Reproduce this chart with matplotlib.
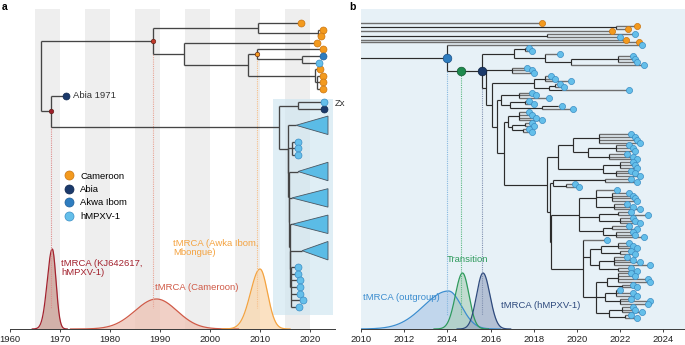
import math
import numpy as np
import matplotlib
matplotlib.use("Agg")
import matplotlib.pyplot as plt
from matplotlib.lines import Line2D
from matplotlib.collections import LineCollection
from matplotlib.patches import Polygon, Rectangle

plt.rcParams['font.family'] = ['Liberation Sans', 'DejaVu Sans']
FS = 6.8

# ------------------------------------------------------------------ data
tip_face = {'o': '#F39A1E', 'n': '#1B3A6B', 'm': '#2E7DC0', 'l': '#64BFEA'}
tip_edge = {'o': '#C97410', 'n': '#10284F', 'm': '#1F5E98', 'l': '#3A8DC4'}
legend_labels = ['Cameroon', 'Abia', 'Akwa Ibom', 'hMPXV-1']
legend_codes = ['o', 'n', 'm', 'l']

a_ticks = [1960, 1970, 1980, 1990, 2000, 2010, 2020]
a_stripes = [1965, 1975, 1985, 1995, 2005, 2015]
b_ticks = [2010, 2012, 2014, 2016, 2018, 2020, 2022, 2024]

# panel a tree: [time, children...] / (time, colour, tag) / ('tri', apex time)
cameroon_clade = ['cam', 1988.6,
                  [2009.6, (2018.2, 'o'), [2021.6, (2022.6, 'o'), (2022.2, 'o')]],
                  [1994.8, (2021.4, 'o'),
                   [2007.6,
                    ['awka', 2009.4, (2022.6, 'o'), [2018.4, (2022.6, 'm'), (2021.8, 'l')]],
                    [2021.0, (2022.0, 'o'), [2021.4, (2022.6, 'o'), (2022.6, 'o'), (2022.6, 'o')]]]]]
hmpxv_clade = [2013.8,
               [2017.6, (2022.8, 'l', 'zx'), (2022.8, 'n')],
               [2015.6, ('tri', 2017.2),
                [2015.7, [2016.4, 2017.6, 2017.6, 2017.6],
                 [2015.8, ('tri', 2017.6),
                  [2015.9, ('tri', 2016.4),
                   [2016.0, ('tri', 2016.4),
                    [2016.1, ('tri', 2018.4),
                     [2016.2, 2017.6, 2017.6, 2018.0, 2018.0, 2018.0, 2018.6, 2017.8]]]]]]]]
tree_a = [1966.2, cameroon_clade, ['kj', 1968.2, (1971.2, 'n', 'abia'), hmpxv_clade]]
tri_base_a = 2023.6

# panel b tree
clade_A = [2017.1, [2017.6, 2017.8, 2017.9],
           [2018.5, 2019.2, [2019.7, [2021.9, 2022.6, 2022.7, 2022.8], 2023.1]]]
clade_B = [2017.0, 2017.7, 2017.9, 2018.0]
clade_C = [2018.0, [2018.5, 2018.8, 2019.0, 2019.7],
           [2018.7, [2019.0, 2019.2, 2019.4], [2019.3, 2022.4]]]
clade_D = [2016.5, [2017.3, 2017.9, 2018.1, 2018.7],
           [2016.9, [2017.6, 2017.8, 2018.0], [2018.4, [2019.1, 2019.3], 2019.8]]]
clade_E = [2016.8, [2017.3, 2017.8, 2017.9, 2018.1, 2018.4],
           [2017.0, [2017.6, 2017.9, 2018.0], [2017.5, 2017.8, 2017.9]]]
clade_F1 = [2019.1,
            [2019.8, [2021.0, 2022.5, 2022.7, 2022.8, 2022.9],
             [2020.5, [2021.8, 2022.4, 2022.6, 2022.7], [2021.5, 2022.3, 2022.6, 2022.8]]],
            [2021.2, [2022.0, 2022.6, 2022.7, 2022.8], [2021.8, 2022.5, 2022.7, 2022.9]]]
clade_F2 = [2018.9, [2021.3, 2022.5, 2022.8], [2019.5, 2019.9, 2020.1]]
clade_F3 = [2020.1,
            [2020.9, 2021.85, [2021.6, 2022.4, 2022.6, 2022.7, 2022.8], [2021.7, 2022.3, 2022.6, 2022.9]],
            [2021.0, [2021.9, 2022.5, 2023.3], [2022.0, 2022.6, 2022.7, 2022.9]],
            [2021.2, [2021.6, 2022.4, 2022.8], [2021.8, 2022.6, 2022.7, 2023.1]]]
clade_F4 = [2020.3, 2021.4,
            [2020.6, [2021.1, [2021.9, 2022.4, 2022.6, 2022.8], [2022.0, 2022.5, 2022.7]],
             [2021.0, [2021.7, 2022.3, 2022.6, 2022.9, 2023.4], [2021.9, 2022.5, 2022.8]]],
            [2020.9, [2021.4, [2021.9, 2022.5, 2022.7, 2023.3, 2023.4], [2022.1, 2022.6, 2022.8]],
             [2021.3, [2021.8, 2022.0, 2022.6, 2022.8], [2022.0, 2022.5, 2023.4, 2023.3]],
             [2021.5, [2022.1, 2022.6, 2022.7, 2023.0], [2022.2, 2022.5, 2022.8]]]]
clade_F = [2018.6, clade_F1, [2018.75, clade_F2, [2018.8, clade_F3, clade_F4]]]
navy_clade = ['navy', 2015.6, clade_A,
              [2015.8, clade_B, [2016.05, clade_C, [2016.3, clade_D, [2016.6, clade_E, clade_F]]]]]
main_clade = ['blue', 2014.0, 2023.0, ['green', 2014.65, navy_clade]]
tree_b = [2001.0, (2018.4, 'o'),
          [2002.0, [2021.8, (2022.8, 'o'), (2022.35, 'o')],
           [2003.0, (2021.6, 'o'),
            [2004.0, [2018.6, 2022.7, 2022.0],
             [2005.0, (2022.25, 'o'),
              [2006.0, (2022.85, 'o'), main_clade]]]]]]

# tMRCA densities (mode, left sd, right sd, peak height)
dens_a_names = ['kj', 'cam', 'awka']
dens_a_mode = [1968.45, 1989.3, 2010.0]
dens_a_sdl = [1.0, 4.3, 1.9]
dens_a_sdr = [0.75, 4.1, 1.5]
dens_a_peak = [80, 30, 60]
dens_a_line = ['#A3222E', '#D05A47', '#F4A340']
dens_a_fill = ['#C99D92', '#EDC1B3', '#FAD8AE']

dens_b_names = ['blue', 'green', 'navy']
dens_b_mode = [2014.05, 2014.7, 2015.65]
dens_b_sdl = [1.15, 0.33, 0.3]
dens_b_sdr = [0.6, 0.3, 0.32]
dens_b_peak = [38, 56, 56]
dens_b_line = ['#3C8DCF', '#2E9A5C', '#2E4A7D']
dens_b_fill = ['#A9C4E6', '#A9CFB6', '#93A2BF']

# ------------------------------------------------------------------ helpers
Y_TOP, Y_BOT = 9, 329


def count_slots(node):
    if isinstance(node, list):
        kids = node[2:] if isinstance(node[0], str) else node[1:]
        return sum(count_slots(k) for k in kids)
    if isinstance(node, tuple) and node[0] == 'tri':
        return 4
    return 1


def layout_tree(tree, y0, dy):
    st = {'slot': 0}
    internal, terminal, tips, tris, tags = [], [], [], [], {}

    def rec(node, pt):
        if isinstance(node, list):
            if isinstance(node[0], str):
                tag, t, kids = node[0], node[1], node[2:]
            else:
                tag, t, kids = None, node[0], node[1:]
            ys = [rec(k, t) for k in kids]
            y = 0.5 * (ys[0] + ys[-1])
            internal.append([(t, ys[0]), (t, ys[-1])])
            if pt is not None:
                internal.append([(pt, y), (t, y)])
            if tag:
                tags[tag] = (t, y)
            return y
        if isinstance(node, tuple) and node[0] == 'tri':
            y = y0 + (st['slot'] + 1.5) * dy
            st['slot'] += 4
            tris.append((node[1], y))
            internal.append([(pt, y), (node[1], y)])
            return y
        if isinstance(node, tuple):
            t, code = node[0], node[1]
            tag = node[2] if len(node) > 2 else None
        else:
            t, code, tag = node, 'l', None
        y = y0 + st['slot'] * dy
        st['slot'] += 1
        terminal.append([(pt, y), (t, y)])
        tips.append((t, y, code))
        if tag:
            tags[tag] = (t, y)
        return y

    rec(tree, None)
    return internal, terminal, tips, tris, tags


def split_normal(x, mode, sdl, sdr, peak):
    sd = np.where(x < mode, sdl, sdr)
    return peak * np.exp(-0.5 * ((x - mode) / sd) ** 2)


def draw_tips(ax, tips, ms, z=6):
    for code in tip_face:
        pts = [(t, y) for t, y, c in tips if c == code]
        if pts:
            xs, ys = zip(*pts)
            ax.plot(xs, ys, 'o', ms=ms, mfc=tip_face[code], mec=tip_edge[code],
                    mew=0.5, ls='', zorder=z)


def style_axis(ax, ticks):
    for s in ['top', 'left', 'right']:
        ax.spines[s].set_visible(False)
    ax.spines['bottom'].set_color('#3a3a3a')
    ax.spines['bottom'].set_linewidth(0.7)
    ax.set_yticks([])
    ax.set_xticks(ticks)
    ax.tick_params(axis='x', length=2.5, width=0.6, pad=1.5, labelsize=FS,
                   colors='#222222')
    ax.set_ylim(Y_BOT, Y_TOP)


# ------------------------------------------------------------------ figure
fig = plt.figure(figsize=(6.85, 3.45), dpi=100)
W, H = 685, 345
ax_a = fig.add_axes([10 / W, (H - Y_BOT) / H, 325 / W, (Y_BOT - Y_TOP) / H])
ax_b = fig.add_axes([361 / W, (H - Y_BOT) / H, 324 / W, (Y_BOT - Y_TOP) / H])

# ---------------- panel a
ax_a.set_xlim(1960, 2025)
style_axis(ax_a, a_ticks)
for s in a_stripes:
    ax_a.axvspan(s, s + 5, color='#EEEEEE', lw=0, zorder=0)

A_Y0, A_DY = 23, 6.6
internal, terminal, tips, tris, tags = layout_tree(tree_a, A_Y0, A_DY)

# shaded box behind hMPXV-1 clade
ax_a.add_patch(Rectangle((2012.6, 99), 12.0, 216, fc='#CFE5F1', ec='none',
                         alpha=0.65, zorder=0.5))

ax_a.add_collection(LineCollection(internal + terminal, colors='#454545',
                                   linewidths=0.95, zorder=3))
for apex, y in tris:
    ax_a.add_patch(Polygon([(apex, y), (tri_base_a, y - 1.4 * A_DY),
                            (tri_base_a, y + 1.4 * A_DY)], closed=True,
                           fc='#5BBCE6', ec='#4a5763', lw=0.6, zorder=4))
draw_tips(ax_a, tips, ms=5.0)

# densities a
for i, name in enumerate(dens_a_names):
    lo = dens_a_mode[i] - 4 * dens_a_sdl[i]
    hi = dens_a_mode[i] + 4 * dens_a_sdr[i]
    x = np.linspace(lo, hi, 500)
    h = split_normal(x, dens_a_mode[i], dens_a_sdl[i], dens_a_sdr[i], dens_a_peak[i])
    ax_a.fill_between(x, Y_BOT, Y_BOT - h, color=dens_a_fill[i], alpha=0.75,
                      lw=0, zorder=1)
    ax_a.plot(x, Y_BOT - h, color=dens_a_line[i], lw=0.9, zorder=2)

# dotted tMRCA lines a
for tag, col in [('kj', '#DE8E8E'), ('cam', '#E8A596'), ('awka', '#F6C08A')]:
    t, y = tags[tag]
    ax_a.plot([t, t], [y, 308], ls=(0, (1, 1)), color=col, lw=0.8, zorder=2.5)
for tag, col in [('kj', '#9E1F2B'), ('cam', '#C0392B'), ('awka', '#F39A1E')]:
    t, y = tags[tag]
    ax_a.plot(t, y, 'o', ms=3.3, mfc=col, mec='#5a1a10', mew=0.4, zorder=7)

t, y = tags['abia']
ax_a.text(t + 1.4, y, 'Abia 1971', fontsize=FS, color='#333333', va='center',
          ha='left', zorder=8)
t, y = tags['zx']
ax_a.text(t + 2.2, y + 1.5, 'Zx', fontsize=FS, color='#333333', va='center',
          ha='left', clip_on=False)

ax_a.text(1970.2, 268, 'tMRCA (KJ642617,\nhMPXV-1)', fontsize=FS,
          color=dens_a_line[0], va='center', ha='left', linespacing=1.05)
ax_a.text(1989.0, 287, 'tMRCA (Cameroon)', fontsize=FS, color=dens_a_line[1],
          va='center', ha='left')
ax_a.text(1992.6, 248, 'tMRCA (Awka Ibom,\nMbongue)', fontsize=FS,
          color=dens_a_line[2], va='center', ha='left', linespacing=1.05)

handles = [Line2D([], [], marker='o', ls='', ms=6.5, mfc=tip_face[c],
                  mec=tip_edge[c], mew=0.5) for c in legend_codes]
ax_a.legend(handles, legend_labels, loc='upper left',
            bbox_to_anchor=(0.164, 0.492), frameon=False, fontsize=FS,
            handlelength=1.2, handletextpad=0.6, labelspacing=0.47,
            borderpad=0, borderaxespad=0)

# ---------------- panel b
ax_b.set_xlim(2010, 2025)
style_axis(ax_b, b_ticks)
ax_b.set_facecolor('#E7F1F7')

n_b = count_slots(tree_b)
B_Y0, B_Y1 = 23, 318
B_DY = (B_Y1 - B_Y0) / (n_b - 1)
internal, terminal, tips, tris, tags = layout_tree(tree_b, B_Y0, B_DY)
ax_b.add_collection(LineCollection(terminal, colors='#6f6f6f', linewidths=1.0,
                                   zorder=3))
ax_b.add_collection(LineCollection(internal, colors='#2c2c2c', linewidths=0.85,
                                   zorder=3.2))
draw_tips(ax_b, tips, ms=4.4)

for i, name in enumerate(dens_b_names):
    lo = dens_b_mode[i] - 4 * dens_b_sdl[i]
    hi = dens_b_mode[i] + 4 * dens_b_sdr[i]
    x = np.linspace(lo, hi, 500)
    h = split_normal(x, dens_b_mode[i], dens_b_sdl[i], dens_b_sdr[i], dens_b_peak[i])
    ax_b.fill_between(x, Y_BOT, Y_BOT - h, color=dens_b_fill[i], alpha=0.6,
                      lw=0, zorder=1)
    ax_b.plot(x, Y_BOT - h, color=dens_b_line[i], lw=0.9, zorder=2)

node_cols = {'blue': ('#2E7DC0', '#1A4F85', '#86B8E0'),
             'green': ('#1E8A4E', '#115a30', '#5DB883'),
             'navy': ('#1B3A6B', '#0d2040', '#8090B0')}
for tag, (fc, ec, lc) in node_cols.items():
    t, y = tags[tag]
    ax_b.plot([t, t], [y, 315], ls=(0, (1, 1)), color=lc, lw=0.8, zorder=2.5)
    ax_b.plot(t, y, 'o', ms=6.2, mfc=fc, mec=ec, mew=0.5, zorder=7)

ax_b.text(2010.1, 297, 'tMRCA (outgroup)', fontsize=FS, color=dens_b_line[0],
          va='center', ha='left')
ax_b.text(2014.95, 260, 'Transition', fontsize=FS, color=dens_b_line[1],
          va='center', ha='center')
ax_b.text(2016.5, 306, 'tMRCA (hMPXV-1)', fontsize=FS, color=dens_b_line[2],
          va='center', ha='left')

fig.text(2 / W, 1 - 2 / H, 'a', fontsize=7.5, fontweight='bold', va='top', ha='left')
fig.text(349 / W, 1 - 2 / H, 'b', fontsize=7.5, fontweight='bold', va='top', ha='left')

fig.savefig('out.png', dpi=100)
